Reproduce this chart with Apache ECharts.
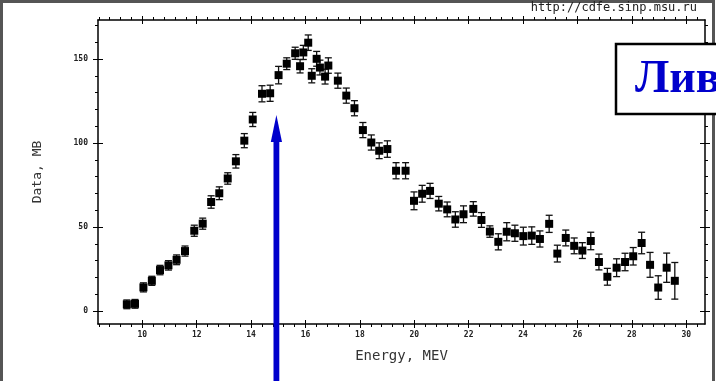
<!DOCTYPE html>
<html><head><meta charset="utf-8">
<script src="https://cdn.jsdelivr.net/npm/echarts@6/dist/echarts.min.js"></script>
<style>html,body{margin:0;padding:0;background:#fff}#c{width:716px;height:381px}</style>
</head><body><div id="c"></div><script>
// Energy (MeV)
const energy = [9.43,9.73,10.04,10.35,10.65,10.96,11.26,11.57,11.91,12.22,12.53,12.83,13.14,13.44,13.75,14.06,14.40,14.70,15.01,15.31,15.62,15.80,15.92,16.10,16.23,16.41,16.53,16.72,16.84,17.19,17.50,17.80,18.11,18.42,18.71,19.01,19.33,19.68,19.99,20.29,20.58,20.90,21.21,21.51,21.81,22.17,22.47,22.78,23.09,23.40,23.70,24.01,24.32,24.62,24.96,25.26,25.57,25.88,26.18,26.49,26.79,27.10,27.44,27.75,28.05,28.36,28.67,28.97,29.28,29.58];
// Data (mb)
const crossSection = [4.0,4.3,14.1,18.0,24.4,27.2,30.5,35.7,47.8,52.0,64.9,70.1,78.9,89.1,101.4,114.0,129.3,129.6,140.4,147.2,153.4,145.7,153.9,159.7,140.0,150.1,144.9,139.5,146.1,137.1,128.2,120.7,107.7,100.3,95.4,96.4,83.5,83.5,65.6,69.8,71.5,63.9,60.5,54.5,57.6,60.8,54.2,47.3,41.2,47.2,46.3,44.6,44.9,42.9,51.9,34.2,43.5,38.8,36.0,41.7,29.2,20.4,25.8,29.2,32.6,40.5,27.5,14.0,25.8,18.0];
// Error (mb)
const errors = [2.6,2.6,2.7,2.7,2.8,2.8,2.9,3.0,3.3,3.3,3.7,3.8,3.4,4.0,4.2,4.2,4.8,4.8,5.2,3.5,3.6,4.0,4.2,4.6,4.2,4.4,4.4,4.4,4.6,4.5,4.5,4.5,4.5,4.5,4.7,4.9,4.8,4.8,5.3,5.0,4.5,4.3,4.4,4.6,5.0,4.3,4.4,3.4,4.8,5.4,4.8,5.3,5.2,4.8,5.1,5.0,4.7,4.7,4.7,5.2,4.7,5.0,5.3,5.2,5.2,6.4,7.4,7.0,8.7,10.9];
// Tick labels
const xMajorTicks = [10,12,14,16,18,20,22,24,26,28,30];
const yMajorTicks = [0,50,100,150];
const yMinorTicks = [10,20,30,40,60,70,80,90,110,120,130,140,160,170];
// Arrow marker
const arrowEnergy = [14.93];
const arrowTip = [116.7];

const X_MIN = 8.37, X_MAX = 30.69, Y_MIN = -7.7, Y_MAX = 173.2;
const xMinorTicks = [];
for (let v = 84; v <= 306; v += 4) { if (v % 20 !== 0) xMinorTicks.push(v / 10); }

const FONT = 'DejaVu Sans Mono';
function ax(dim, pos, ticks, len, inside, labels, line) {
  return {
    type: 'value', position: pos, gridIndex: 0,
    min: dim === 'x' ? X_MIN : Y_MIN, max: dim === 'x' ? X_MAX : Y_MAX,
    axisLine: {show: line, onZero: false, lineStyle: {color: '#000', width: 1.5}},
    axisTick: {show: true, inside: inside, length: len, customValues: ticks, lineStyle: {color: '#000', width: 1}},
    axisLabel: {show: labels, customValues: ticks, margin: dim === 'x' ? 7 : 10, fontFamily: FONT, fontSize: 8, fontWeight: 'bold', color: '#222'},
    splitLine: {show: false}
  };
}
const xAxes = [
  ax('x', 'bottom', xMajorTicks, 4, false, true, true),
  ax('x', 'bottom', xMinorTicks, 3, false, false, false),
  ax('x', 'bottom', xMajorTicks, 4, true, false, false),
  ax('x', 'top', xMajorTicks, 4, false, false, true),
  ax('x', 'top', xMinorTicks, 3, false, false, false),
  ax('x', 'top', xMajorTicks, 4, true, false, false)
];
xAxes[0].name = 'Energy, MEV';
xAxes[0].nameLocation = 'middle';
xAxes[0].nameGap = 25;
xAxes[0].nameTextStyle = {fontFamily: FONT, fontSize: 14, color: '#333'};
const yAxes = [
  ax('y', 'left', yMajorTicks, 5, false, true, true),
  ax('y', 'left', yMinorTicks, 3, false, false, false),
  ax('y', 'left', yMajorTicks, 5, true, false, false),
  ax('y', 'right', yMajorTicks, 5, false, false, true),
  ax('y', 'right', yMinorTicks, 3, false, false, false),
  ax('y', 'right', yMajorTicks, 5, true, false, false)
];
yAxes[0].name = 'Data, MB';
yAxes[0].nameLocation = 'middle';
yAxes[0].nameGap = 54;
yAxes[0].nameTextStyle = {fontFamily: FONT, fontSize: 13, color: '#333'};

const BLUE = '#0000cc';
const chart = echarts.init(document.getElementById('c'), null, {renderer: 'canvas'});
chart.setOption({
  animation: false,
  backgroundColor: '#fff',
  grid: {left: 98, right: 11, top: 20, bottom: 57, containLabel: false},
  xAxis: xAxes,
  yAxis: yAxes,
  series: [
    {
      type: 'custom', xAxisIndex: 0, yAxisIndex: 0, z: 2,
      data: energy.map((e, i) => [e, crossSection[i], errors[i]]),
      encode: {x: 0, y: 1},
      renderItem: function (params, api) {
        const x = api.value(0), y = api.value(1), e = api.value(2);
        const lo = api.coord([x, y - e]), hi = api.coord([x, y + e]);
        const w = 3.5, st = {stroke: '#111', lineWidth: 1.3};
        return {type: 'group', children: [
          {type: 'line', shape: {x1: lo[0], y1: lo[1], x2: hi[0], y2: hi[1]}, style: st},
          {type: 'line', shape: {x1: lo[0] - w, y1: lo[1], x2: lo[0] + w, y2: lo[1]}, style: st},
          {type: 'line', shape: {x1: hi[0] - w, y1: hi[1], x2: hi[0] + w, y2: hi[1]}, style: st}
        ]};
      }
    },
    {
      type: 'scatter', xAxisIndex: 0, yAxisIndex: 0, z: 3,
      symbol: 'rect', symbolSize: 8,
      itemStyle: {color: '#000', opacity: 1},
      data: energy.map((e, i) => [e, crossSection[i]])
    },
    {
      type: 'custom', xAxisIndex: 0, yAxisIndex: 0, z: 5, clip: false,
      data: arrowEnergy.map((e, i) => [e, arrowTip[i]]),
      encode: {x: 0, y: 1},
      renderItem: function (params, api) {
        const p = api.coord([api.value(0), api.value(1)]);
        const cx = p[0], tip = p[1];
        return {type: 'group', children: [
          {type: 'rect', shape: {x: cx - 2.9, y: tip + 25, width: 5.8, height: 400}, style: {fill: BLUE}},
          {type: 'polygon', shape: {points: [[cx, tip], [cx - 5.6, tip + 27], [cx + 5.6, tip + 27]]}, style: {fill: BLUE}}
        ]};
      }
    }
  ],
  graphic: [
    {type: 'rect', z: 50, shape: {x: 1.5, y: 1.5, width: 712, height: 420}, style: {fill: 'none', stroke: '#555', lineWidth: 3}},
    {type: 'text', z: 50, right: 19, top: 2, style: {text: 'http://cdfe.sinp.msu.ru', font: '12px "DejaVu Sans Mono"', fill: '#222'}},
    {type: 'rect', z: 60, shape: {x: 616, y: 44, width: 110, height: 70}, style: {fill: '#fff', stroke: '#000', lineWidth: 2.5}},
    {type: 'text', z: 61, x: 635, y: 80, style: {text: 'Лив', font: 'bold 46px "Liberation Serif"', fill: BLUE, verticalAlign: 'middle'}}
  ]
});
</script></body></html>
